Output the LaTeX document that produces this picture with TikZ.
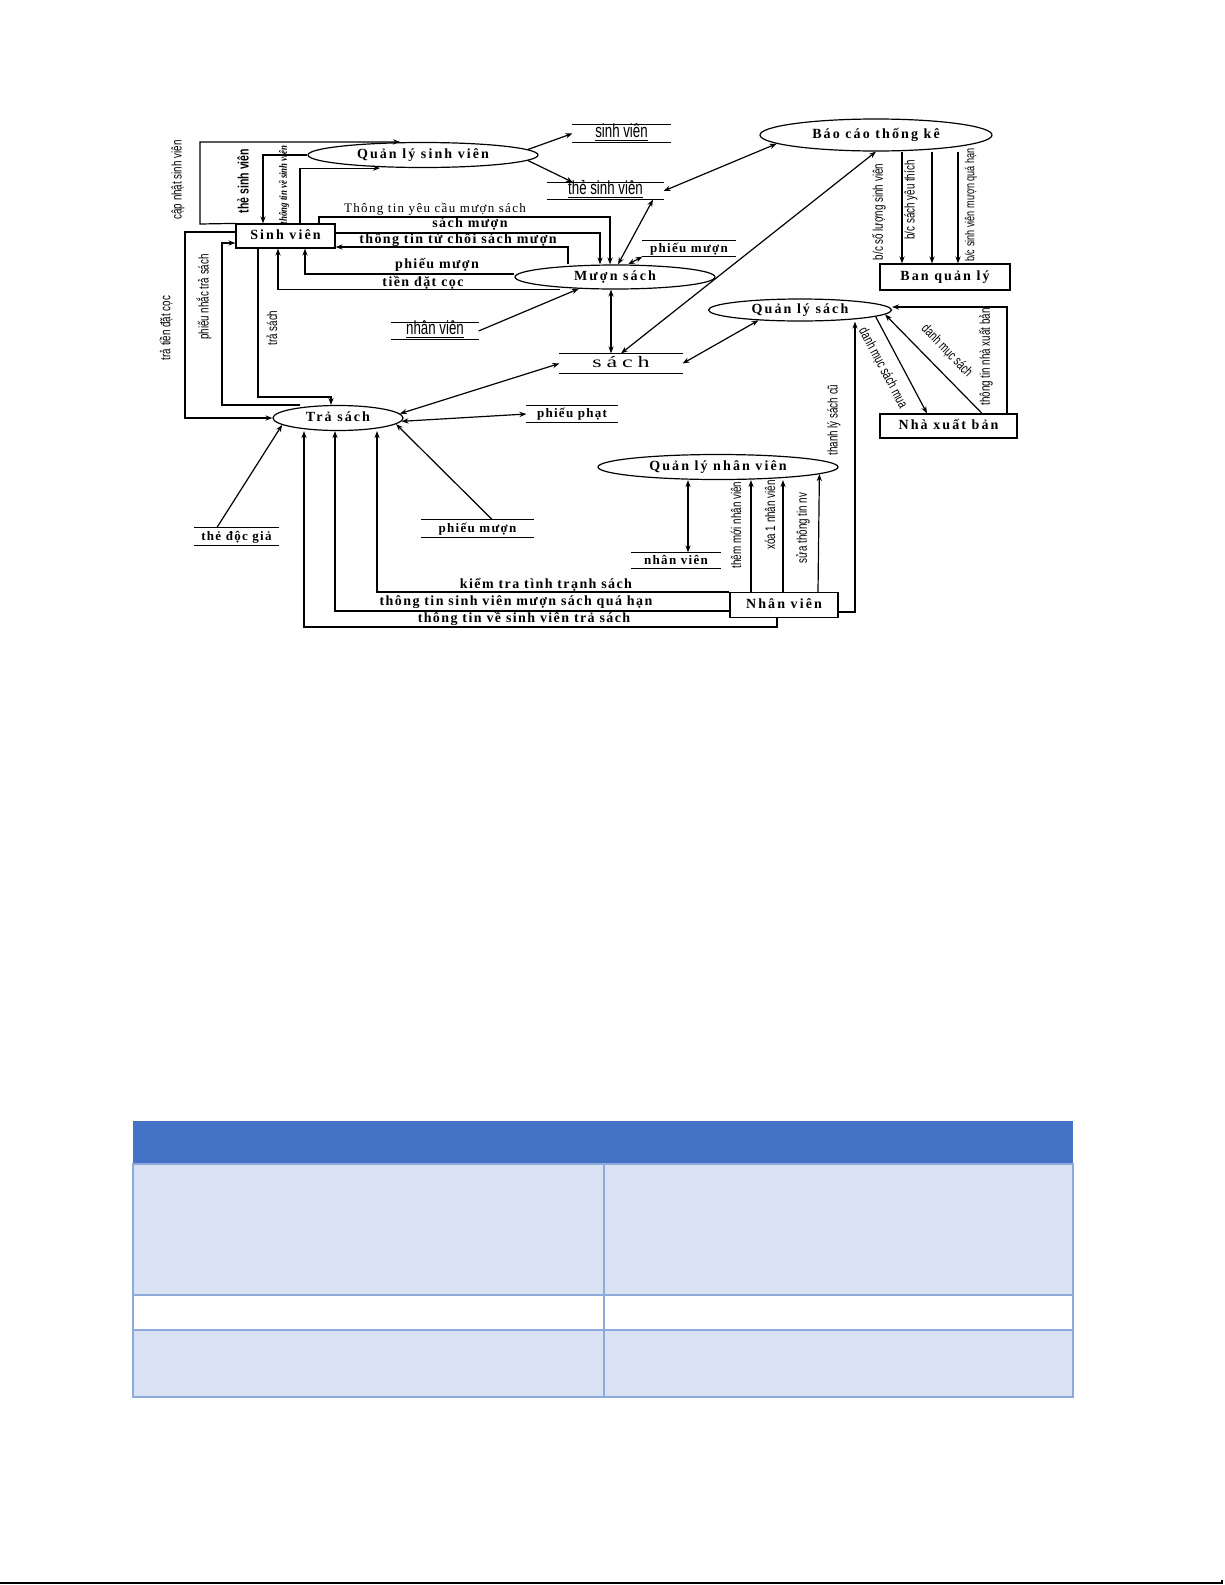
\documentclass[tikz,border=0pt]{standalone}
\usepackage{fontspec}
\setmainfont{Liberation Serif}
\newfontfamily\cachfont[LetterSpace=15]{Liberation Serif}
\newfontfamily\dongfont[LetterSpace=10]{Liberation Serif}
\newfontfamily\hepfont[FakeStretch=0.7]{Liberation Sans}
\newfontfamily\nghiengfont[FakeStretch=0.8]{Liberation Serif}
\newfontfamily\rongfont[FakeStretch=1.5,LetterSpace=30]{Liberation Serif}
\usetikzlibrary{shapes.geometric,arrows.meta}
\definecolor{xanhdam}{HTML}{4472C4}
\definecolor{xanhnhat}{HTML}{D9E2F3}
\definecolor{vien}{HTML}{8EAADB}

\begin{document}
\begin{tikzpicture}[x=0.5pt,y=-0.5pt,->,>={Stealth[length=3.5pt,width=2.6pt]},line width=0.6pt,
   xu ly/.style={ellipse,draw,inner sep=0pt,text height=5pt,text depth=1.5pt,
     font=\cachfont\bfseries\fontsize{7}{8}\selectfont},
   tac nhan/.style={rectangle,draw,inner sep=0pt,text height=5pt,text depth=1.5pt,
     font=\cachfont\bfseries\fontsize{7}{8}\selectfont},
   kho/.style={inner sep=0pt,text height=4.5pt,text depth=1pt,
     font=\dongfont\bfseries\fontsize{6.5}{8}\selectfont},
   kho hep/.style={kho,font=\hepfont\fontsize{9.5}{10}\selectfont},
   nhan/.style={inner sep=0pt,font=\dongfont\bfseries\fontsize{7}{8}\selectfont},
   nhan doc/.style={inner sep=0pt,rotate=90,font=\hepfont\fontsize{7}{8}\selectfont}]

  \fill[white] (0,0) rectangle (1225,1585);
  \useasboundingbox (0,0) rectangle (1225,1585);

  \node[xu ly,minimum width=115pt,minimum height=12.5pt] (qlsv) at (423,155) {Quản lý sinh viên};
  \node[xu ly,minimum width=116pt,minimum height=16pt] (bctk) at (876,135) {Báo cáo thống kê};
  \node[xu ly,minimum width=100pt,minimum height=12pt] (ms) at (615,277) {Mượn sách};
  \node[xu ly,minimum width=65pt,minimum height=12.5pt] (tras) at (338,418) {Trả sách};
  \node[xu ly,minimum width=91.5pt,minimum height=11pt] (qls) at (800,310) {Quản lý sách};
  \node[xu ly,minimum width=120pt,minimum height=12.5pt] (qlnv) at (718,467) {Quản lý nhân viên};
  \node[tac nhan,minimum width=49.5pt,minimum height=12pt] (sv) at (285.5,236) {Sinh viên};
  \node[tac nhan,minimum width=65pt,minimum height=13pt] (bql) at (945,277) {Ban quản lý};
  \node[tac nhan,minimum width=68.5pt,minimum height=12pt] (nxb) at (948.5,426) {Nhà xuất bản};
  \node[tac nhan,minimum width=54pt,minimum height=12.5pt] (nv) at (784,605) {Nhân viên};

  \node[kho hep,minimum width=48.5pt,minimum height=8.5pt] (ksv) at (621.5,133.5) {\underline{sinh viên}};
  \node[kho hep,minimum width=57.5pt,minimum height=8pt] (ktsv) at (605.5,191) {\underline{thẻ sinh viên}};
  \node[kho hep,minimum width=43pt,minimum height=8pt] (knv1) at (435,331) {\underline{nhân viên}};
  \node[kho,minimum width=46pt,minimum height=7.5pt] (kpm1) at (689,248.5) {phiếu mượn};
  \node[kho,minimum width=61pt,minimum height=9.5pt,font=\rongfont\fontsize{8}{9}\selectfont] (ksach) at (621,363.5) {sách};
  \node[kho,minimum width=45pt,minimum height=8pt] (kpp) at (572,414) {phiếu phạt};
  \node[kho,minimum width=41.5pt,minimum height=8.5pt] (kdg) at (236.5,536.5) {thẻ độc giả};
  \node[kho,minimum width=55.5pt,minimum height=8.5pt] (kpm2) at (477.5,528.5) {phiếu mượn};
  \node[kho,minimum width=44pt,minimum height=7.5pt] (knv2) at (676,560.5) {nhân viên};

  \foreach \k in {ksv,ktsv,knv1,kpm1,ksach,kpp,kdg,kpm2,knv2}
    \draw[-] (\k.north west) -- (\k.north east) (\k.south west) -- (\k.south east);

  \draw (sv.north west) -- (200,224) |- (qlsv.north -| 400,0);
  \draw (qlsv.west) -| (sv.north -| 263,0);
  \draw (sv.north -| 300,0) |- (qlsv.south -| 380,0);
  \draw (qlsv.3) -- (ksv.west);
  \draw (qlsv.-3) -- (ktsv.north -| 573,0);

  \draw (sv.north -| 319,0) |- (610,217) -- (ms.north -| 610,0);
  \draw (sv.east |- 0,233) -| (ms.north -| 600,0);
  \draw (ms.north -| 568,0) |- (sv.east |- 0,247);
  \draw (ms.west |- 0,274) -| (sv.south -| 305,0);
  \draw (ms.south -| 560,0) -| (sv.south -| 278,0);

  \draw (sv.west |- 0,232) -- (185,232) |- (tras.west);
  \draw (tras.north -| 300,0) -| (222,243) -- (sv.west |- 0,243);
  \draw (sv.south -| 258,0) |- (331,397) -- (tras.north -| 331,0);

  \draw (kdg.north -| 217,0) -- (tras.187);
  \draw (kpm2.north -| 492,0) -- (tras.-6);
  \draw[<->] (ksach.west) -- (tras.4);
  \draw[<->] (tras.-3) -- (kpp.west);
  \draw (nv.north west) -| (tras.south -| 377,0);
  \draw (nv.west |- 0,611) -| (tras.south -| 335,0);
  \draw (nv.south -| 777,0) |- (304,627) -- (tras.south -| 304,0);

  \draw (nv.north -| 751,0) -- (qlnv.south -| 751,0);
  \draw (nv.north -| 783,0) -- (qlnv.south -| 783,0);
  \draw (nv.north -| 818,0) -- (qlnv.-4);
  \draw[<->] (qlnv.south -| 688,0) -- (knv2.north -| 688,0);

  \draw (nv.east |- 0,612) -| (qls.south -| 855,0);
  \draw (qls.-5) -- (nxb.north -| 927,0);
  \draw (nxb.north -| 982,0) -- (qls.-3);
  \draw (nxb.north -| 1007,0) |- (qls.east |- 0,307);
  \draw[<->] (ksach.east) -- (qls.194);

  \draw[<->] (ms.south -| 611,0) -- (ksach.north -| 611,0);
  \draw[<->] (ksach.north) -- (bctk.south);
  \draw[<->] (ktsv.east) -- (bctk.185);
  \draw[<->] (ms.north -| 618,0) -- (ktsv.south -| 653,0);
  \draw[<->] (ms.north -| 628,0) -- (kpm1.south west);
  \draw (knv1.east) -- (ms.198);
  \foreach \x in {902,932,958} \draw (bctk.south -| \x,0) -- (bql.north -| \x,0);

  \node[nhan,font=\dongfont\fontsize{6.5}{8}\selectfont] (lyc) at (435,209) {Thông tin yêu cầu mượn sách};
  \node[nhan] (lsm) at (470,224) {sách mượn};
  \node[nhan] (ltc) at (458,240) {thông tin từ chối sách mượn};
  \node[nhan] (lpm) at (437,265) {phiếu mượn};
  \node[nhan] (ldc) at (423,283) {tiền đặt cọc};
  \node[nhan] (lkt) at (546,585) {kiểm tra tình trạnh sách};
  \node[nhan] (lqh) at (516,602) {thông tin sinh viên mượn sách quá hạn};
  \node[nhan] (ltra) at (524,619) {thông tin về sinh viên trả sách};

  \node[nhan doc] (lcn) at (178,180) {cập nhật sinh viên};
  \node[nhan doc,font=\hepfont\bfseries\fontsize{7.5}{8}\selectfont] (ltsv) at (243,181) {thẻ sinh viên};
  \node[nhan doc,font=\nghiengfont\bfseries\itshape\fontsize{5.5}{6}\selectfont] (lttsv) at (284,185) {thông tin về sinh viên};
  \node[nhan doc] (ltt) at (166,328) {trả tiền đặt cọc};
  \node[nhan doc] (lpn) at (204,297) {phiếu nhắc trả sách};
  \node[nhan doc] (lts) at (272,328) {trả sách};
  \node[nhan doc] (lbc1) at (879,212) {b/c số lượng sinh viên};
  \node[nhan doc] (lbc2) at (911,200) {b/c sách yêu thích};
  \node[nhan doc,font=\hepfont\fontsize{6.5}{8}\selectfont] (lbc3) at (971,205) {b/c sinh viên mượn quá hạn};
  \node[nhan doc] (ltl) at (834,420) {thanh lý sách cũ};
  \node[nhan doc] (lnxb) at (986,357) {thông tin nhà xuất bản};
  \node[nhan doc] (ltm) at (736,525) {thêm mới nhân viên};
  \node[nhan doc] (lxoa) at (770,515) {xóa 1 nhân viên};
  \node[nhan doc] (lsua) at (803,528) {sửa thông tin nv};
  \node[nhan doc,rotate=-152] (ldmm) at (883,368) {danh mục sách mua};
  \node[nhan doc,rotate=-136] (ldm) at (947,351) {danh mục sách};

  \fill[xanhdam] (133,1121) rectangle (1073,1164);
  \fill[xanhnhat] (133,1164) rectangle (1073,1295);
  \fill[xanhnhat] (133,1330) rectangle (1073,1397);
  \draw[-,vien] (133,1164) rectangle (1073,1397);
  \foreach \y in {1295,1330} \draw[-,vien] (133,\y) -- (1073,\y);
  \draw[-,vien] (604,1164) -- (604,1397);

  \draw[-,line width=1pt] (0,1583) -- (1222,1583) -- (1222,1580);
\end{tikzpicture}
\end{document}
